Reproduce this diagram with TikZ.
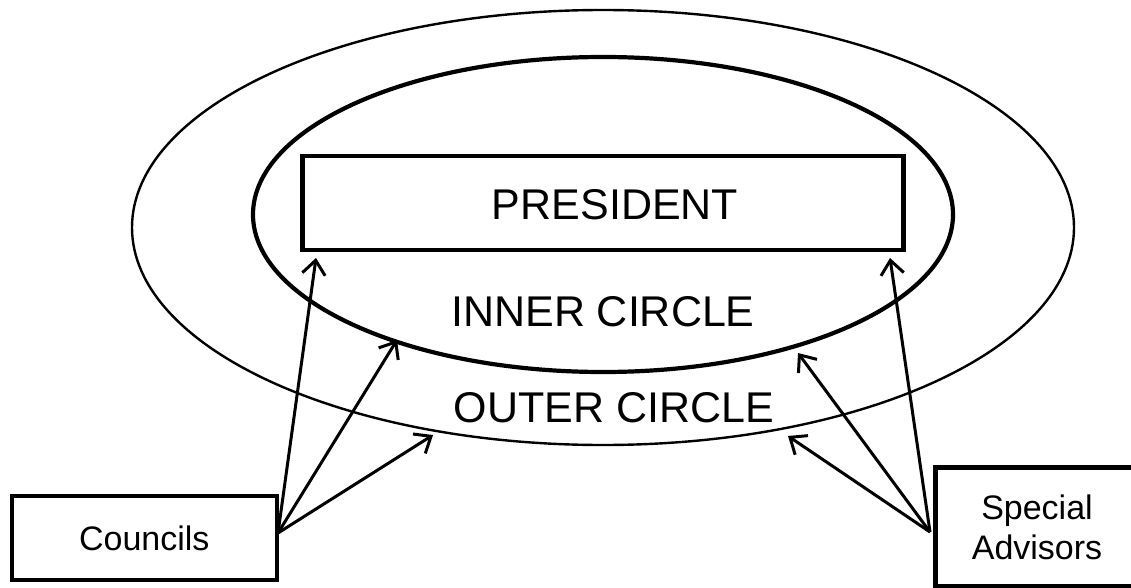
\documentclass[tikz,border=0pt]{standalone}
\usepackage{fontspec}
\setmainfont{Liberation Sans}
\usetikzlibrary{arrows.meta,positioning,calc,shapes.geometric}

\begin{document}
\begin{tikzpicture}[
    x=1pt, y=-1pt,
    ring/.style={ellipse,draw,inner sep=0pt},
    box/.style={rectangle,draw,line width=4.6pt,inner sep=0pt,align=center,font=\fontsize{34}{40}\selectfont},
    big/.style={font=\fontsize{43}{48}\selectfont},
    link/.style={->,line width=3pt},
    >={Straight Barb[length=14pt,width=23pt,line width=3pt]}]
    \useasboundingbox (0,0) rectangle (1131,588);
    \clip (0,0) rectangle (1131,588);

    % the two circles
    \node[ring,line width=2.4pt,minimum width=942pt,minimum height=435pt] (outer) at (603,227.5) {};
    \node[ring,line width=4.2pt,minimum width=700pt,minimum height=315pt] (inner) at (603,214.5) {};

    \node[box,minimum width=601pt,minimum height=94pt] (pres) at (603,203) {};
    \node[big] (prestxt) at (615,205) {PRESIDENT};
    \node[big] (innertxt) at (603,312) {INNER CIRCLE};
    \node[big] (outertxt) at (614,408) {OUTER CIRCLE};

    \node[box,minimum width=265pt,minimum height=84pt] (cou) at (144.3,538) {Councils};
    \node[box,minimum width=203pt,minimum height=119pt] (adv) at (1037,527) {Special\\Advisors};

    % where the arrows start and end
    \coordinate (cs) at (278,533);
    \coordinate (ss) at (930,532);
    \coordinate (pl) at (316,258);
    \coordinate (pr) at (890,258);
    \coordinate (il) at (397,340);
    \coordinate (ir) at (798,353);
    \coordinate (ol) at (433,435);
    \coordinate (or) at (788,436);

    \draw[link] (cs) -- (pl);
    \draw[link] (cs) -- (il);
    \draw[link] (cs) -- (ol);
    \draw[link] (ss) -- (pr);
    \draw[link] (ss) -- (ir);
    \draw[link] (ss) -- (or);
\end{tikzpicture}
\end{document}
